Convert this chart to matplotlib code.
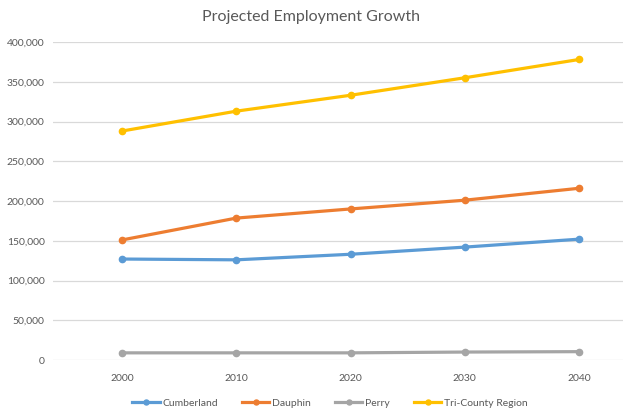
import numpy as np
import matplotlib.pyplot as plt

plt.rcParams['font.family'] = ['Lato', 'DejaVu Sans']

years = ['2000', '2010', '2020', '2030', '2040']
cumberland = [127000, 126000, 133000, 142000, 152000]
dauphin = [151000, 178500, 190000, 201000, 216000]
perry = [9000, 9000, 9000, 10000, 10500]
tri_county = [288000, 313000, 333000, 355000, 378000]

series = [('Cumberland', cumberland, '#5B9BD5'),
          ('Dauphin', dauphin, '#ED7D31'),
          ('Perry', perry, '#A5A5A5'),
          ('Tri-County Region', tri_county, '#FFC000')]

fig = plt.figure(figsize=(6.23, 4.12), dpi=100)
ax = fig.add_axes([53/623, 52/412, 570/623, 318/412])

x = np.arange(len(years))
for name, vals, col in series:
    ax.plot(x, vals, '-o', color=col, lw=2.3, ms=4.5, label=name)

ax.set_xlim(-0.604, 4.385)
ax.set_ylim(0, 400000)
ax.set_yticks(np.arange(0, 400001, 50000))
ax.set_yticklabels(['{:,}'.format(v) for v in range(0, 400001, 50000)])
ax.set_xticks(x)
ax.set_xticklabels(years)
ax.grid(axis='y', color='#D9D9D9', lw=0.9)
ax.set_axisbelow(True)
for s in ax.spines.values():
    s.set_visible(False)
ax.tick_params(length=0, labelsize=7.5, labelcolor='#595959', pad=6)
ax.tick_params(axis='x', pad=10)

fig.text(0.5, 0.958, 'Projected Employment Growth', ha='center', va='center',
         fontsize=11.5, color='#595959')

leg = fig.legend(loc='center', bbox_to_anchor=(0.53, 0.022), ncol=4, frameon=False,
                 fontsize=7.5, handlelength=2.6, columnspacing=2.3, handletextpad=0.3,
                 labelcolor='#595959', markerscale=0.8)

fig.savefig('out.png', dpi=100)
